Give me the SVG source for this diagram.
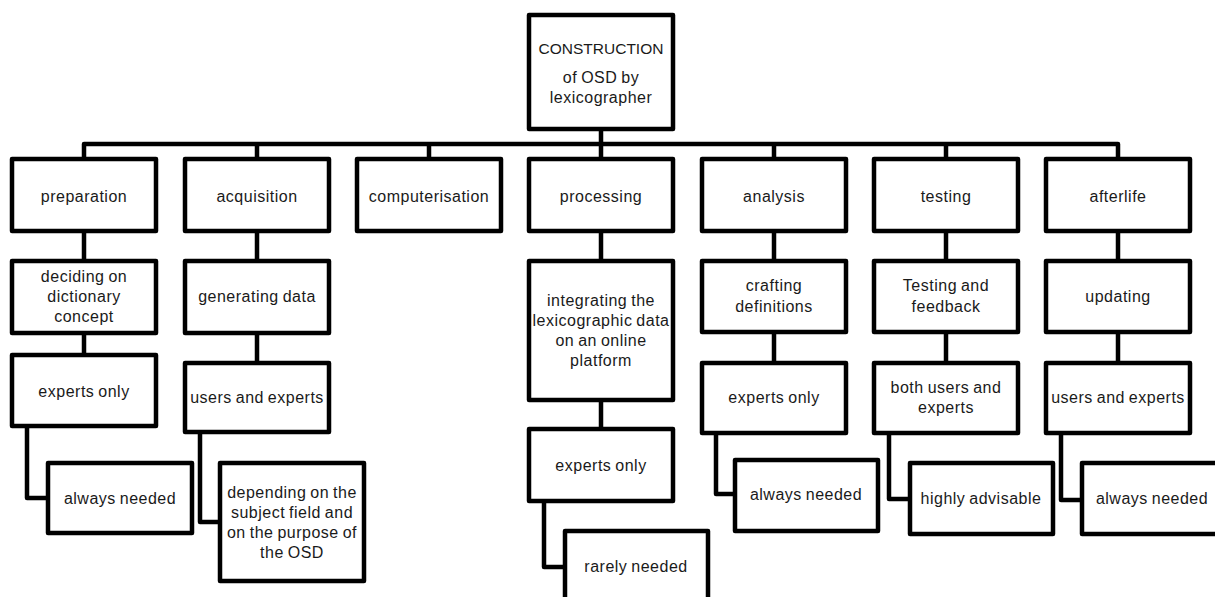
<svg xmlns="http://www.w3.org/2000/svg" width="1215" height="597" viewBox="0 0 1215 597">
<style>
.b{fill:#fff;stroke:#000;stroke-width:4.5;stroke-linejoin:round}
.c{fill:none;stroke:#000;stroke-width:4.5;stroke-linejoin:round;stroke-linecap:square}
text{font-family:"Liberation Sans",Arial,sans-serif;font-size:16px;letter-spacing:0.5px;word-spacing:-1px;fill:#1a1a1a;text-anchor:middle;dominant-baseline:central}
.cap{font-size:15.5px;letter-spacing:0}
</style>
<rect width="1215" height="597" fill="#fff"/>
<g id="connectors">
<path class="c" d="M601 129V144M84 159V144H1118V159M257 144V159M429 144V159M601 144V159M774 144V159M946 144V159"/>
<path class="c" d="M84 231V261M257 231V261M601 231V261M774 231V261M946 231V261M1118 231V261"/>
<path class="c" d="M84 333V355M257 333V363M601 400V429M774 332V363M946 332V363M1118 332V363"/>
<path class="c" d="M27 426V498H48M200 432V522H220M544 501V567H565M716 433V494H735M889 433V499H910M1061 433V500H1082"/>
</g>
<g id="root"><rect class="b" x="529" y="15" width="144" height="114"/><text class="cap" x="601" y="48">CONSTRUCTION</text><text x="601" y="77">of OSD by</text><text x="601" y="97">lexicographer</text></g>
<g id="preparation"><rect class="b" x="12" y="159" width="144" height="72"/><text x="84" y="196">preparation</text></g>
<g id="acquisition"><rect class="b" x="185" y="159" width="144" height="72"/><text x="257" y="196">acquisition</text></g>
<g id="computerisation"><rect class="b" x="357" y="159" width="144" height="72"/><text x="429" y="196">computerisation</text></g>
<g id="processing"><rect class="b" x="529" y="159" width="144" height="72"/><text x="601" y="196">processing</text></g>
<g id="analysis"><rect class="b" x="702" y="159" width="144" height="72"/><text x="774" y="196">analysis</text></g>
<g id="testing"><rect class="b" x="874" y="159" width="144" height="72"/><text x="946" y="196">testing</text></g>
<g id="afterlife"><rect class="b" x="1046" y="159" width="144" height="72"/><text x="1118" y="196">afterlife</text></g>
<g id="deciding"><rect class="b" x="12" y="261" width="144" height="72"/><text x="84" y="276">deciding on</text><text x="84" y="296">dictionary</text><text x="84" y="316">concept</text></g>
<g id="generating"><rect class="b" x="185" y="261" width="144" height="72"/><text x="257" y="296">generating data</text></g>
<g id="integrating"><rect class="b" x="529" y="261" width="144" height="139"/><text x="601" y="300">integrating the</text><text x="601" y="320">lexicographic data</text><text x="601" y="340">on an online</text><text x="601" y="360">platform</text></g>
<g id="crafting"><rect class="b" x="702" y="261" width="144" height="71"/><text x="774" y="285">crafting</text><text x="774" y="306">definitions</text></g>
<g id="testingfeedback"><rect class="b" x="874" y="261" width="144" height="71"/><text x="946" y="285">Testing and</text><text x="946" y="306">feedback</text></g>
<g id="updating"><rect class="b" x="1046" y="261" width="144" height="71"/><text x="1118" y="296">updating</text></g>
<g id="experts1"><rect class="b" x="12" y="355" width="144" height="71"/><text x="84" y="391">experts only</text></g>
<g id="usersexperts1"><rect class="b" x="185" y="363" width="144" height="69"/><text x="257" y="397">users and experts</text></g>
<g id="experts2"><rect class="b" x="529" y="429" width="144" height="72"/><text x="601" y="465">experts only</text></g>
<g id="experts3"><rect class="b" x="702" y="363" width="144" height="70"/><text x="774" y="397">experts only</text></g>
<g id="bothusers"><rect class="b" x="874" y="363" width="144" height="70"/><text x="946" y="387">both users and</text><text x="946" y="407">experts</text></g>
<g id="usersexperts2"><rect class="b" x="1046" y="363" width="144" height="70"/><text x="1118" y="397">users and experts</text></g>
<g id="always1"><rect class="b" x="48" y="463" width="144" height="70"/><text x="120" y="498">always needed</text></g>
<g id="depending"><rect class="b" x="220" y="463" width="144" height="118"/><text x="292" y="492">depending on the</text><text x="292" y="512">subject field and</text><text x="292" y="532">on the purpose of</text><text x="292" y="552">the OSD</text></g>
<g id="rarely"><rect class="b" x="565" y="531" width="143" height="80"/><text x="636" y="566">rarely needed</text></g>
<g id="always2"><rect class="b" x="735" y="460" width="143" height="71"/><text x="806" y="494">always needed</text></g>
<g id="advisable"><rect class="b" x="910" y="463" width="143" height="71"/><text x="981" y="498">highly advisable</text></g>
<g id="always3"><rect class="b" x="1082" y="463" width="144" height="71"/><text x="1152" y="498">always needed</text></g>
</svg>
